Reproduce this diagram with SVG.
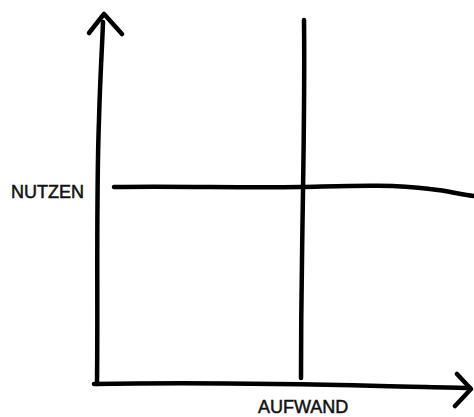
<svg xmlns="http://www.w3.org/2000/svg" width="474" height="417" viewBox="0 0 474 417">
<style>
.ln{fill:none;stroke:#000;stroke-width:4.5;stroke-linecap:round;stroke-linejoin:round}
.lb{font-family:"Liberation Sans",Arial,sans-serif;font-size:18px;fill:#111;stroke:#111;stroke-width:0.5}
</style>
<rect width="474" height="417" fill="#fff"/>
<g id="connectors">
<path class="ln" d="M97,384 C98,300 96,200 99,120 C100,80 102,50 103,22"/>
<path class="ln" d="M89,33 L104,14 L122,34"/>
<path class="ln" d="M94,384 C200,382 300,384 380,386 C420,387 450,387 470,388"/>
<path class="ln" d="M457,374 L471,389 L455,406"/>
<path class="ln" d="M304,20 C305,100 303,180 302,260 C301,320 301,350 301,378"/>
<path class="ln" d="M114,187 C180,186 240,188 300,187 C350,186 390,184 430,189 C450,191 462,195 474,196"/>
</g>
<g id="nutzen"><text class="lb" x="11" y="198">NUTZEN</text></g>
<g id="aufwand"><text class="lb" x="258" y="413">AUFWAND</text></g>
</svg>
